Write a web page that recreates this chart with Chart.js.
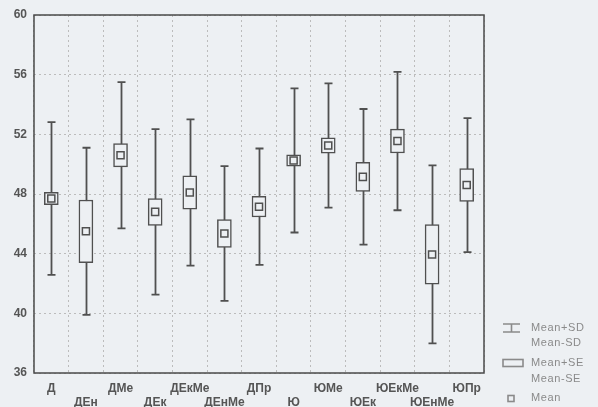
<!DOCTYPE html>
<html>
<head>
<meta charset="utf-8">
<script src="https://cdn.jsdelivr.net/npm/chart.js@4/dist/chart.umd.min.js"></script>
<style>
  html, body { margin: 0; padding: 0; background: #edf0f3; }
  canvas { display: block; }
</style>
</head>
<body>
<canvas id="myChart" width="598" height="407"></canvas>
<script>
// categorías y valores (Mean, SE, SD)
const categorias = ['Д', 'ДЕн', 'ДМе', 'ДЕк', 'ДЕкМе', 'ДЕнМе', 'ДПр', 'Ю', 'ЮМе', 'ЮЕк', 'ЮЕкМе', 'ЮЕнМе', 'ЮПр'];
const medias = [47.7, 45.5, 50.6, 46.8, 48.1, 45.35, 47.15, 50.25, 51.25, 49.15, 51.55, 43.95, 48.6];
const errStd = [0.42, 2.1, 0.78, 0.9, 1.12, 0.93, 0.69, 0.38, 0.52, 0.97, 0.8, 2.0, 1.1];
const desvStd = [5.12, 5.6, 4.9, 5.55, 4.9, 4.52, 3.9, 4.83, 4.17, 4.55, 4.64, 5.97, 4.49];
const ticksY = [36, 40, 44, 48, 52, 56, 60];

const FONDO = '#edf0f3';
const LINEA = '#505050';
const TEXTO = '#555';
const FUENTE = '"Liberation Sans", Arial, sans-serif';

// bigotes Mean±SD, dibujados antes de las cajas
const bigotes = {
    id: 'bigotes',
    beforeDatasetsDraw(chart) {
        const { ctx, scales: { x, y } } = chart;
        ctx.save();
        ctx.strokeStyle = LINEA;
        ctx.lineWidth = 1.8;
        medias.forEach((m, i) => {
            const px = Math.round(x.getPixelForValue(i)) + 0.5;
            const top = y.getPixelForValue(m + desvStd[i]);
            const bot = y.getPixelForValue(m - desvStd[i]);
            ctx.beginPath();
            ctx.moveTo(px, top); ctx.lineTo(px, bot);
            ctx.moveTo(px - 4, top); ctx.lineTo(px + 4, top);
            ctx.moveTo(px - 4, bot); ctx.lineTo(px + 4, bot);
            ctx.stroke();
        });
        ctx.restore();
    }
};

// marco y leyenda
const marcoLeyenda = {
    id: 'marcoLeyenda',
    afterDraw(chart) {
        const { ctx, chartArea: a } = chart;
        ctx.save();
        ctx.strokeStyle = '#4a4a4a';
        ctx.lineWidth = 1.5;
        ctx.strokeRect(a.left, a.top, a.right - a.left, a.bottom - a.top);

        ctx.strokeStyle = '#8a8a8a';
        ctx.lineWidth = 1.6;
        // icono SD
        ctx.beginPath();
        ctx.moveTo(503, 324); ctx.lineTo(520, 324);
        ctx.moveTo(503, 332); ctx.lineTo(520, 332);
        ctx.moveTo(511.5, 324); ctx.lineTo(511.5, 332);
        ctx.stroke();
        // icono SE
        ctx.strokeRect(503, 359.5, 20, 7);
        // icono Mean
        ctx.strokeRect(508, 395.5, 6, 6);

        ctx.fillStyle = '#8a8a8a';
        ctx.font = '11px ' + FUENTE;
        ctx.letterSpacing = '0.6px';
        ctx.textBaseline = 'middle';
        const textos = [['Mean+SD', 328], ['Mean-SD', 343], ['Mean+SE', 363], ['Mean-SE', 379], ['Mean', 398]];
        textos.forEach(([t, yy]) => ctx.fillText(t, 531, yy));
        ctx.restore();
    }
};

const ctx = document.getElementById('myChart').getContext('2d');
new Chart(ctx, {
    type: 'bar',
    data: {
        labels: categorias,
        datasets: [
            {
                label: 'Mean±SE',
                data: medias.map((m, i) => [m - errStd[i], m + errStd[i]]),
                backgroundColor: FONDO,
                borderColor: LINEA,
                borderWidth: 1.5,
                borderSkipped: false,
                barThickness: 14,
                order: 2
            },
            {
                type: 'line',
                label: 'Mean',
                data: medias,
                showLine: false,
                pointStyle: 'rect',
                pointRadius: 5,
                pointBorderWidth: 1.5,
                pointBackgroundColor: FONDO,
                pointBorderColor: LINEA,
                order: 1
            }
        ]
    },
    options: {
        responsive: false,
        animation: false,
        layout: { padding: { top: 15, right: 114, left: 0, bottom: 0 } },
        plugins: {
            legend: { display: false },
            tooltip: { enabled: false }
        },
        scales: {
            x: {
                grid: { color: '#bcbcbc', drawTicks: false, offset: true },
                border: { display: false, dash: [2, 3] },
                ticks: {
                    autoSkip: false,
                    maxRotation: 0,
                    padding: 8,
                    color: TEXTO,
                    font: { family: FUENTE, size: 12, weight: 'bold' },
                    callback: (v, i) => i % 2 === 0 ? categorias[i] : ['', categorias[i]]
                },
                afterFit: (s) => { s.height = 34; }
            },
            y: {
                min: 36,
                max: 60,
                afterBuildTicks: (s) => { s.ticks = ticksY.map(v => ({ value: v })); },
                grid: { color: '#bcbcbc', drawTicks: false },
                border: { display: false, dash: [2, 3] },
                ticks: {
                    padding: 7,
                    color: TEXTO,
                    font: { family: FUENTE, size: 12, weight: 'bold' }
                },
                afterFit: (s) => { s.width = 34; }
            }
        }
    },
    plugins: [bigotes, marcoLeyenda]
});
</script>
</body>
</html>
